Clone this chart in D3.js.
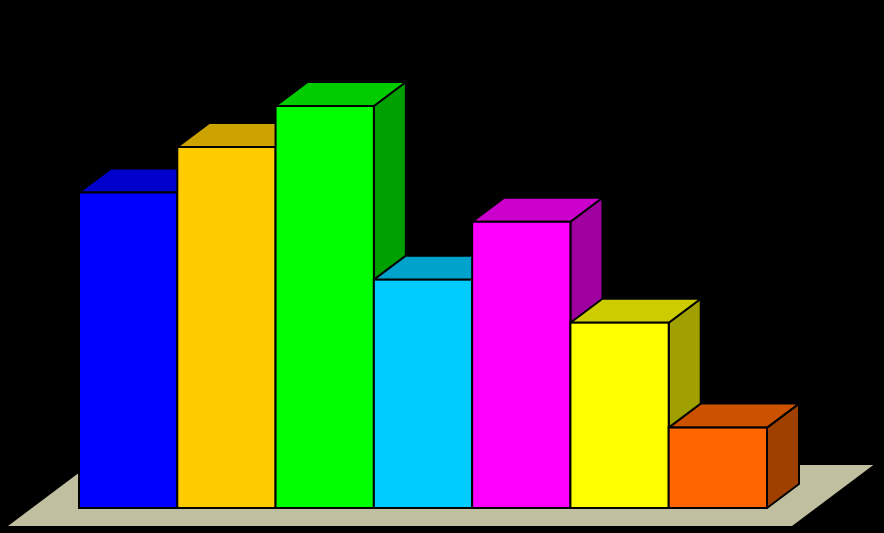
<!DOCTYPE html>
<html>
<head>
<meta charset="utf-8">
<script src="https://cdn.jsdelivr.net/npm/d3@7"></script>
<style>
html,body{margin:0;padding:0;background:#000;}
svg{display:block;}
</style>
</head>
<body>
<svg id="chart" width="884" height="533"></svg>
<script>
const categories = ["A", "B", "C", "D", "E", "F", "G"];
const values = [78.5, 89.8, 100, 56.8, 71.2, 46.1, 20];
const frontColors = ["#0000ff", "#ffcc00", "#00ff00", "#00ccff", "#ff00ff", "#ffff00", "#ff6600"];
const topColors = ["#0000cc", "#cca300", "#00cc00", "#00a3cc", "#cc00cc", "#cccc00", "#cc5200"];
const sideColors = ["#0000a0", "#a08000", "#00a000", "#0080a0", "#a000a0", "#a0a000", "#a04000"];

const W = 884, H = 533;
const svg = d3.select("#chart");
svg.append("rect").attr("width", W).attr("height", H).attr("fill", "#000");

const x = d3.scaleBand().domain(categories).range([79, 767]).padding(0);
const y = d3.scaleLinear().domain([0, 100]).range([508, 106]);
const dx = 32, dy = 24;

// floor
const base = y(0);
const fl = x.range()[0] - 47, fr = x.range()[1] + 49;
const frontOff = 18, backOff = 43;
const k = dx / dy;
const floorPts = [
  [fl - frontOff * k, base + frontOff],
  [fr - frontOff * k, base + frontOff],
  [fr + backOff * k, base - backOff],
  [fl + backOff * k, base - backOff]
];
svg.append("polygon")
  .attr("points", floorPts.map(p => p.join(",")).join(" "))
  .attr("fill", "#c0c0a0");

const g = svg.append("g");
const bars = g.selectAll("g.bar").data(categories.map((c, i) => ({c, v: values[i], i})))
  .join("g").attr("class", "bar");

const stroke = "#000", sw = 2;
bars.each(function(d) {
  const sel = d3.select(this);
  const L = x(d.c), R = x(d.c) + x.bandwidth();
  const T = y(d.v), B = y(0);
  // side
  sel.append("polygon")
    .attr("points", [[R, T], [R + dx, T - dy], [R + dx, B - dy], [R, B]].map(p => p.join(",")).join(" "))
    .attr("fill", sideColors[d.i]).attr("stroke", stroke).attr("stroke-width", sw).attr("stroke-linejoin", "round");
  // top
  sel.append("polygon")
    .attr("points", [[L, T], [L + dx, T - dy], [R + dx, T - dy], [R, T]].map(p => p.join(",")).join(" "))
    .attr("fill", topColors[d.i]).attr("stroke", stroke).attr("stroke-width", sw).attr("stroke-linejoin", "round");
  // front
  sel.append("rect")
    .attr("x", L).attr("y", T).attr("width", R - L).attr("height", B - T)
    .attr("fill", frontColors[d.i]).attr("stroke", stroke).attr("stroke-width", sw);
});
</script>
</body>
</html>
